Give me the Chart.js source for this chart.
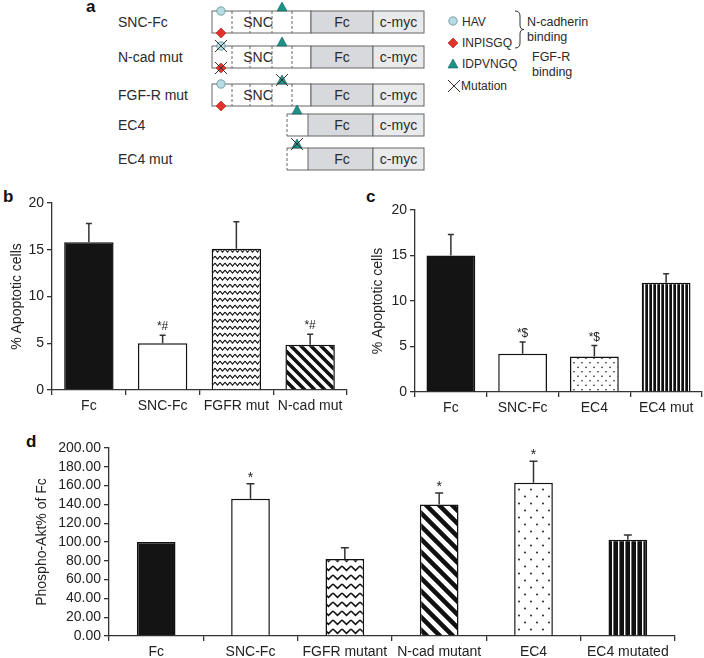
<!DOCTYPE html>
<html>
<head>
<meta charset="utf-8">
<script src="https://cdn.jsdelivr.net/npm/chart.js@4.4.1/dist/chart.umd.min.js"></script>
<style>
body { margin: 0; background: #fff; }
#fig { position: relative; width: 704px; height: 658px; font-family: "Liberation Sans", Arial, sans-serif; }
canvas.panel { position: absolute; }
#schem { position: absolute; left: 0; top: 0; }
</style>
</head>
<body>
<div id="fig">
  <svg id="schem" width="704" height="658"></svg>
  <canvas id="chartB" class="panel" style="left:0;top:185px" width="350" height="235"></canvas>
  <canvas id="chartC" class="panel" style="left:352px;top:185px" width="352" height="235"></canvas>
  <canvas id="chartD" class="panel" style="left:0;top:430px" width="704" height="228"></canvas>
</div>
<script>
/*************************
DATA
*************************/

// panel b - apoptosis, SNC mutants
const bCategories = ['Fc', 'SNC-Fc', 'FGFR mut', 'N-cad mut'];
const bValues = [15.8, 5.0, 15.1, 4.85];
const bErrors = [2.0, 0.85, 2.9, 1.1];
const bMarks = ['', '*#', '', '*#'];

// panel c - apoptosis, EC4
const cCategories = ['Fc', 'SNC-Fc', 'EC4', 'EC4 mut'];
const cValues = [15.0, 4.2, 3.9, 12.0];
const cErrors = [2.3, 1.3, 1.2, 1.0];
const cMarks = ['', '*$', '*$', ''];

// panel d - phospho-Akt
const dCategories = ['Fc', 'SNC-Fc', 'FGFR mutant', 'N-cad mutant', 'EC4', 'EC4 mutated'];
const dValues = [100, 146, 82, 140, 163, 102.5];
const dErrors = [0, 16, 12, 12, 23, 5];
const dMarks = ['', '*', '', '*', '*', ''];

// axis ranges
const apoptosisMax = 20;
const apoptosisStep = 5;
const aktMax = 200;
const aktStep = 20;

/*************************
SCHEMATIC (panel a)
*************************/

const FONT = '"Liberation Sans", Arial, sans-serif';
const schemRows = [
	{name: 'SNC-Fc', top: 11, full: true, ncadMut: false, fgfMut: false},
	{name: 'N-cad mut', top: 46, full: true, ncadMut: true, fgfMut: false},
	{name: 'FGF-R mut', top: 84, full: true, ncadMut: false, fgfMut: true},
	{name: 'EC4', top: 114, full: false, fgfMut: false},
	{name: 'EC4 mut', top: 148, full: false, fgfMut: true},
];

function circleSym(x, y){
	return `<circle cx="${x}" cy="${y}" r="4.2" fill="#b7dde4" stroke="#5f8d96" stroke-width="0.8"/>`;
}
function diamondSym(x, y){
	const s = 5;
	return `<polygon points="${x},${y-s} ${x+s},${y} ${x},${y+s} ${x-s},${y}" fill="#e3322b" stroke="#a61d18" stroke-width="0.6"/>`;
}
function triangleSym(x, base){
	return `<polygon points="${x-5},${base} ${x+5},${base} ${x},${base-9}" fill="#1e9187" stroke="#0f5f58" stroke-width="0.6"/>`;
}
function crossSym(x, y, s){
	return `<path d="M${x-s} ${y-s} L${x+s} ${y+s} M${x+s} ${y-s} L${x-s} ${y+s}" stroke="#333" stroke-width="1"/>`;
}
function txt(x, y, str, size, anchor, weight){
	return `<text x="${x}" y="${y}" font-size="${size}" text-anchor="${anchor || 'start'}" font-weight="${weight || 'normal'}" fill="#2a2a2a" dominant-baseline="central">${str}</text>`;
}

function buildSchematic(){
	let s = `<g font-family='${FONT}'>`;
	const h = 22;
	schemRows.forEach(row => {
		const t = row.top, b = row.top + h, mid = row.top + h / 2;
		s += txt(118, mid, row.name, 14);
		if(row.full){
			s += `<rect x="212" y="${t}" width="99" height="${h}" fill="#fff" stroke="#666" stroke-width="1"/>`;
			[232, 250, 272, 292].forEach(x => {
				s += `<line x1="${x}" y1="${t}" x2="${x}" y2="${b}" stroke="#555" stroke-width="0.9" stroke-dasharray="3,2"/>`;
			});
			s += txt(258, mid, 'SNC', 14, 'middle');
		} else {
			s += `<rect x="287" y="${t}" width="21" height="${h}" fill="#fff" stroke="none"/>`;
			s += `<path d="M308 ${t} L287 ${t} M287 ${b} L308 ${b}" stroke="#666" stroke-width="1"/>`;
			s += `<line x1="287" y1="${t}" x2="287" y2="${b}" stroke="#555" stroke-width="0.9" stroke-dasharray="3,2"/>`;
		}
		const fcStart = row.full ? 311 : 308;
		s += `<rect x="${fcStart}" y="${t}" width="${373 - fcStart}" height="${h}" fill="#d8d9dc" stroke="#666" stroke-width="1"/>`;
		s += `<rect x="373" y="${t}" width="51" height="${h}" fill="#e9eaec" stroke="#666" stroke-width="1"/>`;
		s += txt(342, mid, 'Fc', 14, 'middle');
		s += txt(398.5, mid, 'c-myc', 14, 'middle');
		if(row.full){
			s += circleSym(221, t);
			s += diamondSym(221, b);
			if(row.ncadMut){
				s += crossSym(221, t, 6);
				s += crossSym(221, b, 6);
			}
			s += triangleSym(282, t);
			if(row.fgfMut) s += crossSym(282, t - 4, 6);
		} else {
			s += triangleSym(297, t);
			if(row.fgfMut) s += crossSym(297, t - 4, 6);
		}
	});

	// legend
	s += circleSym(453, 21) + txt(462, 22, 'HAV', 12);
	s += diamondSym(453, 43) + txt(462, 43, 'INPISGQ', 12);
	s += triangleSym(453, 68) + txt(462, 64, 'IDPVNGQ', 12);
	s += crossSym(454, 86, 6) + txt(461, 86, 'Mutation', 12);
	s += `<path d="M515 11 Q520 11 520 16 L520 25 Q520 29.5 524 29.5 Q520 29.5 520 34 L520 43 Q520 48 515 48" fill="none" stroke="#333" stroke-width="1"/>`;
	s += txt(527, 22, 'N-cadherin', 12.5) + txt(527, 37, 'binding', 12.5);
	s += txt(532, 57, 'FGF-R', 12.5) + txt(532, 72, 'binding', 12.5);

	// panel letters
	s += `<text x="86" y="12" font-size="17" font-weight="bold" fill="#111">a</text>`;
	s += `<text x="3" y="202" font-size="17" font-weight="bold" fill="#111">b</text>`;
	s += `<text x="366" y="202" font-size="17" font-weight="bold" fill="#111">c</text>`;
	s += `<text x="26" y="447" font-size="17" font-weight="bold" fill="#111">d</text>`;
	s += '</g>';
	document.querySelector('#schem').innerHTML = s;
}
buildSchematic();

/*************************
PATTERNS
*************************/

function makePattern(w, h, draw){
	const c = document.createElement('canvas');
	c.width = w; c.height = h;
	const g = c.getContext('2d');
	g.fillStyle = '#fff';
	g.fillRect(0, 0, w, h);
	g.fillStyle = '#111';
	g.strokeStyle = '#111';
	draw(g, w, h);
	return g.createPattern(c, 'repeat');
}

function zigzag(w, h, lw){
	return makePattern(w, h, (g) => {
		g.lineWidth = lw;
		g.beginPath();
		g.moveTo(0, 1); g.lineTo(w / 2, h * 0.6); g.lineTo(w, 1);
		g.stroke();
	});
}
function diagonal(size, lw){
	return makePattern(size, size, (g) => {
		g.lineWidth = lw;
		g.beginPath();
		g.moveTo(-size, 0); g.lineTo(size, size * 2);
		g.moveTo(0, 0); g.lineTo(size, size);
		g.moveTo(0, -size); g.lineTo(size * 2, size);
		g.stroke();
	});
}
function dots(w, h, r){
	return makePattern(w, h, (g) => {
		g.beginPath(); g.arc(w * 0.25, h * 0.25, r, 0, Math.PI * 2); g.fill();
		g.beginPath(); g.arc(w * 0.75, h * 0.75, r, 0, Math.PI * 2); g.fill();
	});
}
function vstripes(w, white){
	return makePattern(w, 4, (g) => {
		g.fillRect(white, 0, w - white, 4);
	});
}

const solidBlack = '#141414';

/*************************
ERROR BARS PLUGIN
*************************/

const errorBarPlugin = {
	id: 'errorBars',
	afterDatasetsDraw(chart, args, opts){
		const ctx = chart.ctx;
		const meta = chart.getDatasetMeta(0);
		const yScale = chart.scales.y;
		const values = chart.data.datasets[0].data;
		ctx.save();
		ctx.strokeStyle = '#333';
		ctx.lineWidth = 1.5;
		ctx.fillStyle = '#222';
		ctx.textAlign = 'center';
		ctx.textBaseline = 'alphabetic';
		ctx.font = opts.markFont;
		meta.data.forEach((bar, i) => {
			const err = opts.errors[i];
			let top = bar.y;
			if(err > 0){
				top = yScale.getPixelForValue(values[i] + err);
				ctx.beginPath();
				ctx.moveTo(bar.x, bar.y);
				ctx.lineTo(bar.x, top);
				ctx.moveTo(bar.x - opts.cap, top);
				ctx.lineTo(bar.x + opts.cap, top);
				ctx.stroke();
			}
			if(opts.marks[i]){
				ctx.fillText(opts.marks[i], bar.x, top - opts.markGap);
			}
		});
		ctx.restore();
	}
};

/*************************
CHART BUILDER
*************************/

Chart.defaults.font.family = FONT;
Chart.defaults.font.size = 14;
Chart.defaults.color = '#222';

function CreateBarChart(canvasId, cfg){
	const canvas = document.querySelector(canvasId).getContext('2d');
	return new Chart(canvas, {
		type: 'bar',
		data: {
			labels: cfg.labels,
			datasets: [{
				data: cfg.values,
				backgroundColor: cfg.fills,
				borderColor: '#111',
				borderWidth: 1.5,
				borderSkipped: 'start',
				barPercentage: cfg.barPct,
				categoryPercentage: 1,
			}],
		},
		options: {
			responsive: false,
			animation: false,
			events: [],
			layout: {padding: {top: cfg.padTop, right: cfg.padRight, left: 0, bottom: 0}},
			plugins: {
				legend: {display: false},
				tooltip: {enabled: false},
				errorBars: {errors: cfg.errors, marks: cfg.marks, cap: cfg.cap, markFont: cfg.markFont, markGap: cfg.markGap},
			},
			scales: {
				x: {
					grid: {display: true, drawOnChartArea: false, drawTicks: true, tickLength: 5, color: '#333', lineWidth: 1.3, offset: true},
					border: {display: true, color: '#333', width: 1.3},
					ticks: {padding: 3, color: '#222', maxRotation: 0, autoSkip: false},
					afterFit: (scale) => { scale.height = cfg.xHeight; },
				},
				y: {
					min: 0,
					max: cfg.max,
					grid: {display: true, drawOnChartArea: false, drawTicks: true, tickLength: 5, color: '#333', lineWidth: 1.3},
					border: {display: true, color: '#333', width: 1.3},
					ticks: {stepSize: cfg.step, padding: 3, color: '#222', autoSkip: false, callback: cfg.tickFormat},
					title: {display: true, text: cfg.yTitle, color: '#222', font: {size: 14}, padding: {top: cfg.titlePad, bottom: 0}},
					afterFit: (scale) => { scale.width = cfg.yWidth; },
				},
			},
		},
		plugins: [errorBarPlugin],
	});
}

const chartB = CreateBarChart('#chartB', {
	labels: bCategories,
	values: bValues,
	errors: bErrors,
	marks: bMarks,
	fills: [solidBlack, '#fff', zigzag(5, 7, 1.1), diagonal(10, 3.6)],
	max: apoptosisMax, step: apoptosisStep,
	yTitle: '% Apoptotic cells',
	barPct: 0.67, padTop: 18, padRight: 3, xHeight: 30, yWidth: 52, titlePad: 8.5,
	cap: 3, markFont: '12px ' + FONT, markGap: 5,
});

const chartC = CreateBarChart('#chartC', {
	labels: cCategories,
	values: cValues,
	errors: cErrors,
	marks: cMarks,
	fills: [solidBlack, '#fff', dots(8, 9, 0.8), vstripes(4.4, 1.3)],
	max: apoptosisMax, step: apoptosisStep,
	yTitle: '% Apoptotic cells',
	barPct: 0.68, padTop: 25, padRight: 2, xHeight: 28, yWidth: 63, titlePad: 17.5,
	cap: 3, markFont: '12px ' + FONT, markGap: 5,
});

const chartD = CreateBarChart('#chartD', {
	labels: dCategories,
	values: dValues,
	errors: dErrors,
	marks: dMarks,
	fills: [solidBlack, '#fff', zigzag(9, 9, 1.6), diagonal(13, 4.5), dots(12, 14, 0.9), vstripes(6, 1.4)],
	max: aktMax, step: aktStep,
	yTitle: 'Phospho-Akt% of Fc',
	barPct: 0.41, padTop: 18, padRight: 29, xHeight: 22, yWidth: 109, titlePad: 33.5,
	cap: 4, markFont: '14px ' + FONT, markGap: 2,
	tickFormat: (v) => Number(v).toFixed(2),
});
</script>
</body>
</html>
